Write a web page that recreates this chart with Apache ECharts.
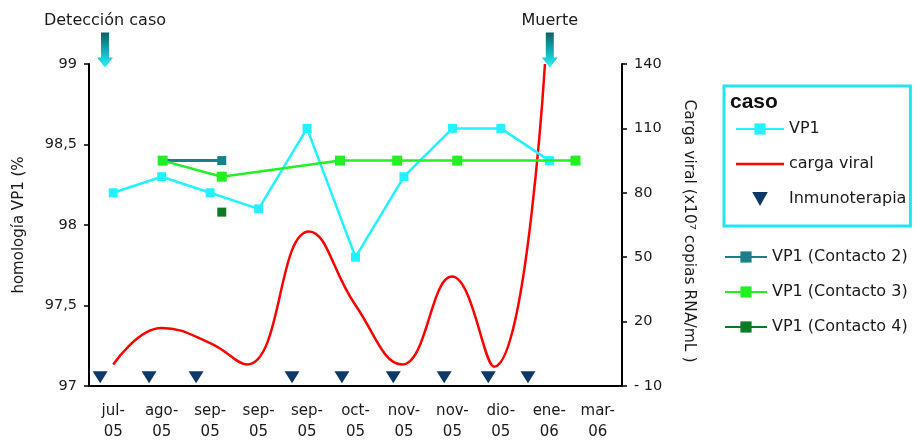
<!DOCTYPE html>
<html><head><meta charset="utf-8">
<script src="https://cdn.jsdelivr.net/npm/echarts@6/dist/echarts.min.js"></script>
<style>html,body{margin:0;padding:0;background:#fff}#c{width:917px;height:446px}</style>
</head><body><div id="c"></div>
<script>
// ---- data ----
const categories = ['jul-\n05','ago-\n05','sep-\n05','sep-\n05','sep-\n05','oct-\n05','nov-\n05','nov-\n05','dio-\n05','ene-\n06','mar-\n06'];
// x positions are in category units (0 = left edge of the first category)
const vp1X = [0.5, 1.5, 2.5, 3.5, 4.5, 5.5, 6.5, 7.5, 8.5, 9.5];
const vp1 = [98.2, 98.3, 98.2, 98.1, 98.6, 97.8, 98.3, 98.6, 98.6, 98.4];
const cargaX = [0.5, 1.5, 2.5, 3.26, 4.54, 5.49, 6.46, 7.49, 8.36, 9.41];
const carga = [0, 17, 10, 0, 62, 28, 0, 41, -1, 140];
const contacto2X = [1.52, 2.74];
const contacto2 = [98.4, 98.4];
const contacto3X = [1.52, 2.74, 5.18, 6.36, 7.60, 10.04];
const contacto3 = [98.4, 98.3, 98.4, 98.4, 98.4, 98.4];
const contacto4X = [2.74];
const contacto4 = [98.08];
const inmunoX = [0.23, 1.24, 2.21, 4.19, 5.22, 6.28, 7.33, 8.24, 9.06];
const inmunoLevel = 97.055;
const eventNames = ['Detección caso', 'Muerte'];
const eventX = [0.33, 9.51];
const eventLevel = 99;

// ---- chart ----
const pair = (xs, ys) => xs.map((x, i) => [x, ys[i]]);
const FONT = 'DejaVu Sans';
const TXT = '#1a1a1a';
const chart = echarts.init(document.getElementById('c'), null, {renderer: 'canvas'});
const arrowGrad = new echarts.graphic.LinearGradient(0, 0, 0, 1, [
  {offset: 0, color: '#0a6266'}, {offset: 0.5, color: '#13a9b4'}, {offset: 1, color: '#27f4ff'}
]);
chart.setOption({
  animation: false,
  backgroundColor: '#fff',
  title: {text: 'caso', left: 730, top: 92, padding: 0,
    textStyle: {fontSize: 21, fontWeight: 'bold', fontFamily: 'Liberation Sans', color: '#111'}},
  grid: {left: 89, right: 295, top: 64, bottom: 60},
  legend: [
    {data: ['VP1',
            {name: 'carga viral', icon: 'path://M0,0 L48,0 L48,2.6 L0,2.6 Z'},
            {name: 'Inmunoterapia', icon: 'path://M0,0 L10,0 L5,9 Z'}],
      orient: 'vertical', left: 724, top: 86, itemWidth: 48, itemHeight: 14, itemGap: 19,
      padding: [35, 4, 19, 11], borderColor: '#22e4f2', borderWidth: 3,
      textStyle: {fontSize: 16, fontFamily: FONT, color: TXT}},
    {data: ['VP1 (Contacto 2)', 'VP1 (Contacto 3)', 'VP1 (Contacto 4)'],
      orient: 'vertical', left: 724, top: 249, itemWidth: 42, itemHeight: 14, itemGap: 19, padding: 0,
      textStyle: {fontSize: 16, fontFamily: FONT, color: TXT}}
  ],
  xAxis: [
    {type: 'category', data: categories, boundaryGap: true, position: 'bottom',
      axisLine: {onZero: false, lineStyle: {color: '#000', width: 2}},
      axisTick: {length: 5, lineStyle: {color: '#000', width: 1.5}},
      axisLabel: {interval: 0, margin: 15, fontSize: 15, lineHeight: 21, fontFamily: FONT, color: TXT}},
    {type: 'value', min: 0, max: 11, show: false}
  ],
  yAxis: [
    {type: 'value', min: 97, max: 99, interval: 0.5, position: 'left',
      name: 'homología VP1 (%', nameLocation: 'middle', nameGap: 62,
      nameTextStyle: {fontSize: 15, fontFamily: FONT, color: TXT},
      axisLine: {show: true, lineStyle: {color: '#000', width: 2}},
      axisTick: {show: true, length: 5, lineStyle: {color: '#000', width: 1.5}},
      splitLine: {show: false},
      axisLabel: {margin: 12, fontSize: 14.5, fontFamily: FONT, color: TXT,
        formatter: v => String(v).replace('.', ',')}},
    {type: 'value', min: -10, max: 140, interval: 30, position: 'right',
      name: 'Carga viral (x10⁷ copias RNA/mL )', nameLocation: 'middle', nameGap: 59, nameRotate: -90,
      nameTextStyle: {fontSize: 15.5, fontFamily: FONT, color: TXT, padding: [0, 0, 0, 12]},
      axisLine: {show: true, lineStyle: {color: '#000', width: 2}},
      axisTick: {show: true, length: 5, lineStyle: {color: '#000', width: 1.5}},
      splitLine: {show: false},
      axisLabel: {margin: 12, fontSize: 14.5, fontFamily: FONT, color: TXT,
        formatter: v => v < 0 ? '- ' + Math.abs(v) : String(v)}}
  ],
  series: [
    {name: 'carga viral', type: 'line', xAxisIndex: 1, yAxisIndex: 1, smooth: 0.45, symbol: 'none',
      data: pair(cargaX, carga), lineStyle: {color: '#ff0000', width: 2.5}, itemStyle: {color: '#ff0000'}, z: 3},
    {name: 'VP1', type: 'line', xAxisIndex: 1, yAxisIndex: 0, symbol: 'rect', symbolSize: 9,
      data: pair(vp1X, vp1), lineStyle: {color: '#22f2ff', width: 2.5}, itemStyle: {color: '#22f2ff'}, z: 4},
    {name: 'VP1 (Contacto 2)', type: 'line', xAxisIndex: 1, yAxisIndex: 0, symbol: 'rect', symbolSize: 9,
      data: pair(contacto2X, contacto2), lineStyle: {color: '#1a7f88', width: 3}, itemStyle: {color: '#1a7f88'}, z: 4},
    {name: 'VP1 (Contacto 3)', type: 'line', xAxisIndex: 1, yAxisIndex: 0, symbol: 'rect', symbolSize: 10,
      data: pair(contacto3X, contacto3), lineStyle: {color: '#22f022', width: 2.5}, itemStyle: {color: '#22f022'}, z: 5},
    {name: 'VP1 (Contacto 4)', type: 'line', xAxisIndex: 1, yAxisIndex: 0, symbol: 'rect', symbolSize: 9,
      data: pair(contacto4X, contacto4), lineStyle: {color: '#0b7a22', width: 2.5}, itemStyle: {color: '#0b7a22'}, z: 5},
    {name: 'Inmunoterapia', type: 'scatter', xAxisIndex: 1, yAxisIndex: 0, symbol: 'triangle',
      symbolRotate: 180, symbolSize: [15, 12],
      data: inmunoX.map(x => [x, inmunoLevel]), itemStyle: {color: '#0d3868', opacity: 1}, z: 6},
    {name: 'eventos', type: 'scatter', xAxisIndex: 1, yAxisIndex: 0, data: [], silent: true,
      markPoint: {
        symbol: 'path://M4,0 L12,0 L12,25 L16,25 L8,35 L0,25 L4,25 Z', symbolSize: [16, 35],
        symbolOffset: [0, -14], itemStyle: {color: arrowGrad},
        label: {show: true, position: 'top', distance: 4, formatter: p => p.name,
          fontSize: 16, fontFamily: FONT, color: TXT},
        data: eventNames.map((n, i) => ({name: n, coord: [eventX[i], eventLevel]}))
      }, z: 7}
  ]
});
</script></body></html>
